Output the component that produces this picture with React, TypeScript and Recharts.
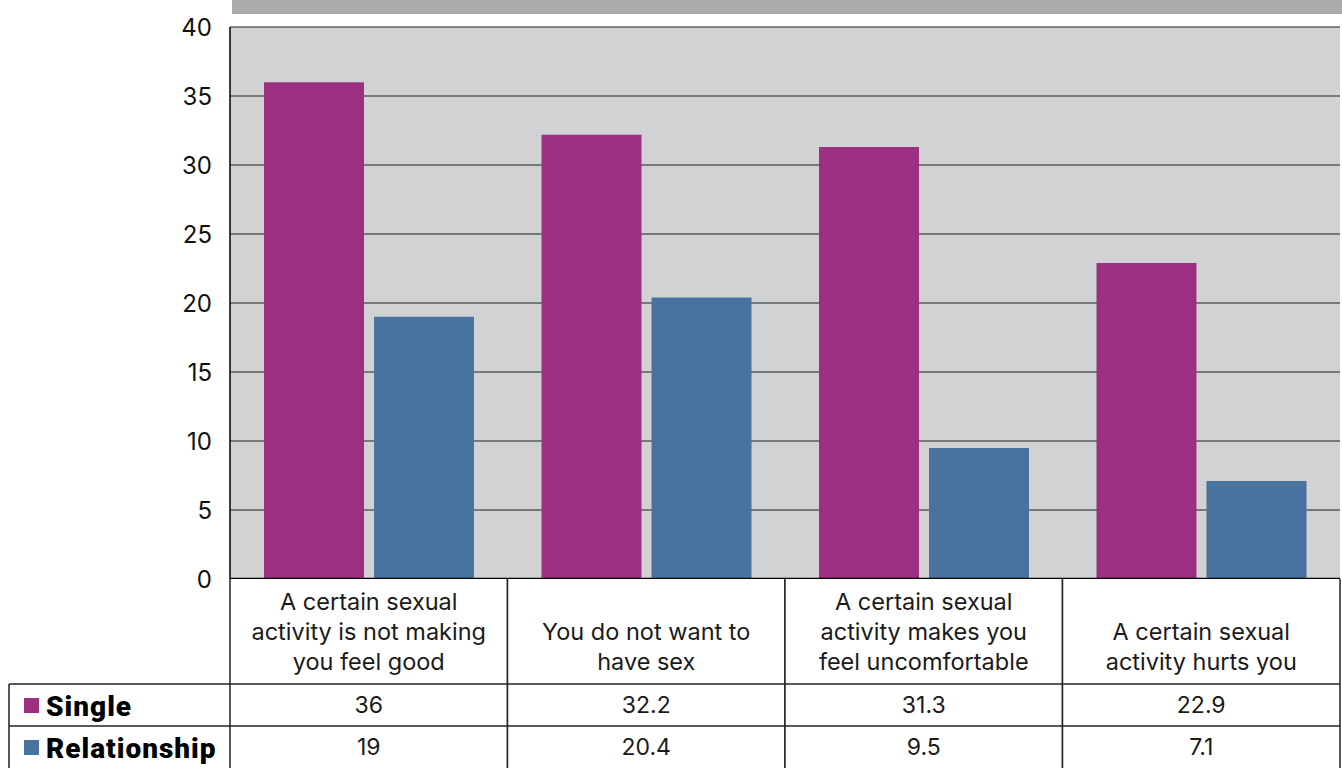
import { BarChart, Bar, XAxis, YAxis, CartesianGrid } from 'recharts';

// ---------------------------------------------------------------------------
// Data
// ---------------------------------------------------------------------------

const categories = [
  'A certain sexual\nactivity is not making\nyou feel good',
  'You do not want to\nhave sex',
  'A certain sexual\nactivity makes you\nfeel uncomfortable',
  'A certain sexual\nactivity hurts you',
];
const singleValues = [36, 32.2, 31.3, 22.9];
const relationshipValues = [19, 20.4, 9.5, 7.1];
const yTicks = [0, 5, 10, 15, 20, 25, 30, 35, 40];

const SERIES = [
  { key: 'single', label: 'Single', color: '#9b3080', values: singleValues },
  { key: 'relationship', label: 'Relationship', color: '#48739e', values: relationshipValues },
];

const rows = categories.map((c, i) => ({
  category: c,
  single: singleValues[i],
  relationship: relationshipValues[i],
}));

// ---------------------------------------------------------------------------
// Layout
// ---------------------------------------------------------------------------

const W = 1342;
const H = 768;
const PLOT_LEFT = 230;
const PLOT_RIGHT = 1340;
const CELL_W = (PLOT_RIGHT - PLOT_LEFT) / categories.length;
const CAT_H = 105;
const ROW_H = 42;
const LINE = '#222';
const TABLE_FONT = 'Inter, Roboto, sans-serif';

// Table drawn under the axis: category label cell + one value cell per series
function TableTick(props: any) {
  const { x, y, payload, index } = props;
  const i = payload?.index ?? index;
  const left = x - CELL_W / 2;
  const right = x + CELL_W / 2;
  const lines = String(payload.value).split('\n');
  const lastBase = y + 91;

  return (
    <g>
      <rect x={left} y={y} width={CELL_W} height={CAT_H + ROW_H * SERIES.length} fill="#fff" />
      {lines.map((ln, k) => (
        <text
          key={k}
          x={x}
          y={lastBase - (lines.length - 1 - k) * 30}
          textAnchor="middle"
          fontFamily={TABLE_FONT}
          fontSize={23.5}
          fill="#1a1a1a"
        >
          {ln}
        </text>
      ))}
      {SERIES.map((s, r) => (
        <text
          key={s.key}
          x={x}
          y={y + CAT_H + r * ROW_H + 29}
          textAnchor="middle"
          fontFamily={TABLE_FONT}
          fontSize={23}
          fill="#1a1a1a"
        >
          {String(s.values[i])}
        </text>
      ))}
      {/* cell borders */}
      <line x1={left} y1={y} x2={left} y2={H} stroke={LINE} strokeWidth={1.5} />
      <line x1={right} y1={y} x2={right} y2={H} stroke={LINE} strokeWidth={1.5} />
      {SERIES.map((s, r) => (
        <line
          key={s.key}
          x1={left}
          y1={y + CAT_H + r * ROW_H}
          x2={right}
          y2={y + CAT_H + r * ROW_H}
          stroke={LINE}
          strokeWidth={1.5}
        />
      ))}

      {/* legend column, drawn once beside the first category */}
      {i === 0 && (
        <g>
          {SERIES.map((s, r) => {
            const top = y + CAT_H + r * ROW_H;
            return (
              <g key={s.key}>
                <line x1={9} y1={top} x2={left} y2={top} stroke={LINE} strokeWidth={1.5} />
                <rect x={24} y={top + 14} width={15} height={15} fill={s.color} />
                <text
                  x={46}
                  y={top + 32}
                  fontFamily="Roboto, sans-serif"
                  fontWeight={900}
                  fontSize={28}
                  letterSpacing={1}
                  fill="#000"
                >
                  {s.label}
                </text>
              </g>
            );
          })}
          <line x1={9} y1={y + CAT_H} x2={9} y2={H} stroke={LINE} strokeWidth={1.5} />
        </g>
      )}
    </g>
  );
}

export default function App() {
  return (
    <div style={{ position: 'absolute', left: 0, top: 0, width: W, height: H, background: '#fff' }}>
      {/* grey band above the plot */}
      <div style={{ position: 'absolute', left: 232, top: 0, width: W - 232, height: 14, background: '#ababab' }} />
      <BarChart
        width={W}
        height={H}
        data={rows}
        margin={{ top: 27, right: W - PLOT_RIGHT, left: 0, bottom: 0 }}
        barSize={100}
        barGap={10}
      >
        <CartesianGrid vertical={false} stroke="#1f1f1f" strokeWidth={1} fill="#d1d2d4" />
        <XAxis
          dataKey="category"
          height={H - 27 - 552}
          interval={0}
          tickLine={false}
          tickSize={0}
          tickMargin={0}
          axisLine={{ stroke: '#000', strokeWidth: 2.5 }}
          tick={<TableTick />}
        />
        <YAxis
          type="number"
          domain={[0, 40]}
          ticks={yTicks}
          width={PLOT_LEFT}
          tickLine={false}
          tickSize={0}
          tickMargin={18}
          axisLine={{ stroke: '#000', strokeWidth: 1.5 }}
          tick={{ fontFamily: 'Inter, sans-serif', fontSize: 24, fill: '#111' }}
        />
        {SERIES.map((s) => (
          <Bar key={s.key} dataKey={s.key} name={s.label} fill={s.color} isAnimationActive={false} />
        ))}
      </BarChart>
    </div>
  );
}
